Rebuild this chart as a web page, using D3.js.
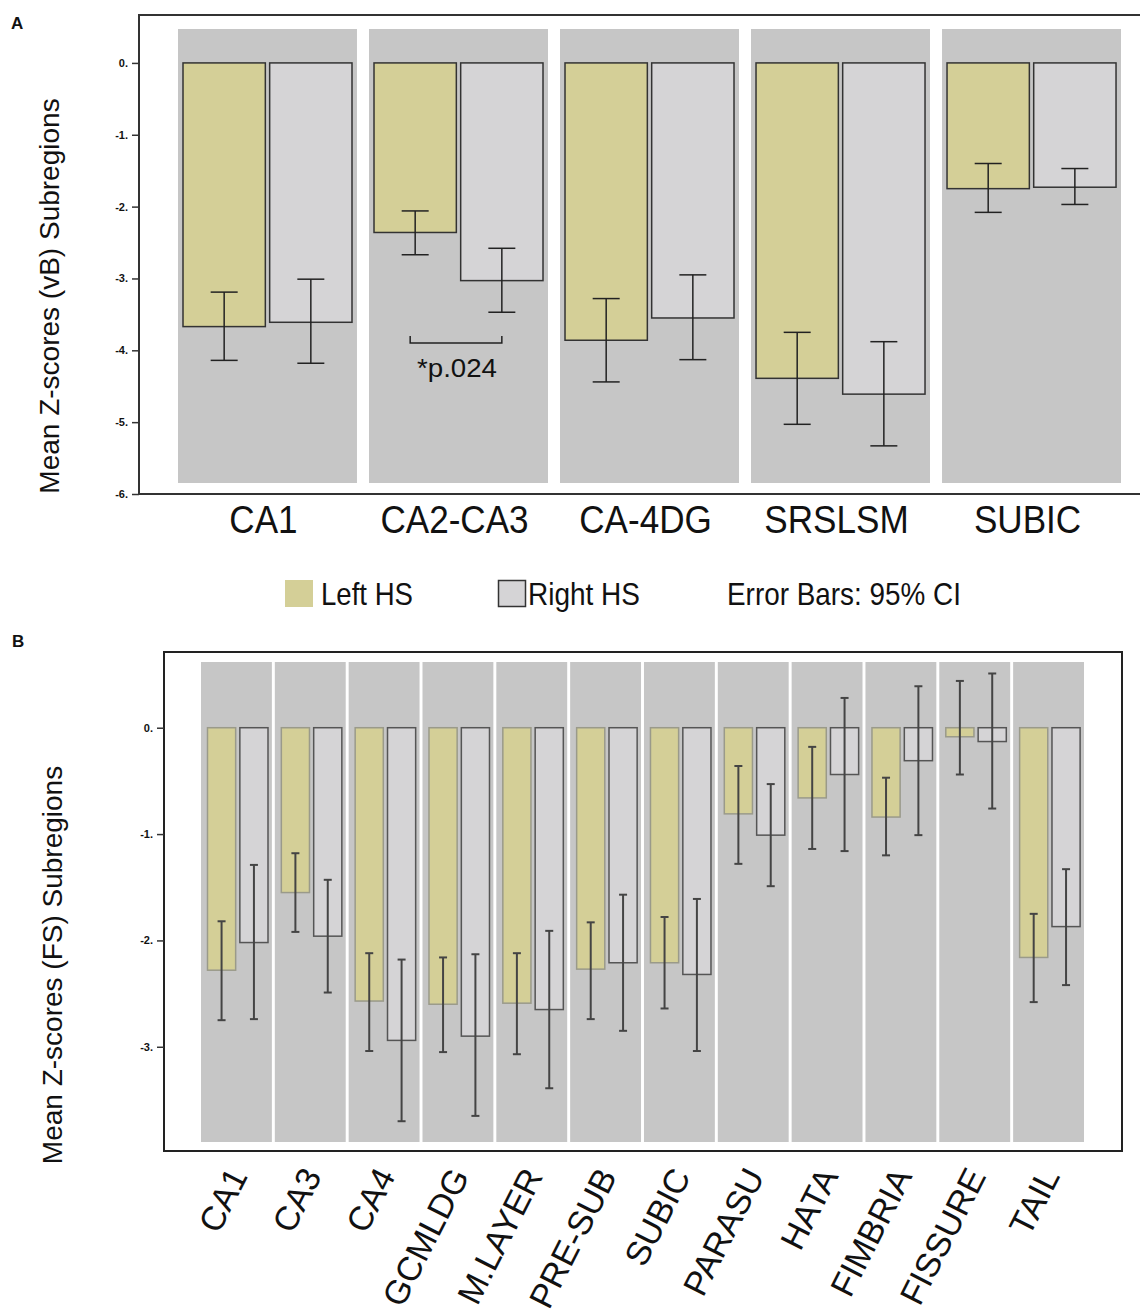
<!DOCTYPE html>
<html>
<head>
<meta charset="utf-8">
<script src="https://cdn.jsdelivr.net/npm/d3@7"></script>
<style>
  body { margin: 0; background: #fff; }
  svg { display: block; }
  text { font-family: "Liberation Sans", Arial, sans-serif; fill: #111; }
</style>
</head>
<body>
<svg id="chart" width="1140" height="1313"></svg>
<script>
// ---- panel A data (vB) ----
const groupsA = ["CA1", "CA2-CA3", "CA-4DG", "SRSLSM", "SUBIC"];
const leftA = [-3.67, -2.36, -3.86, -4.39, -1.75];
const leftA_hi = [-3.19, -2.06, -3.28, -3.75, -1.40];
const leftA_lo = [-4.14, -2.67, -4.44, -5.03, -2.08];
const rightA = [-3.61, -3.03, -3.55, -4.61, -1.73];
const rightA_hi = [-3.01, -2.58, -2.95, -3.88, -1.47];
const rightA_lo = [-4.18, -3.47, -4.13, -5.33, -1.97];
const ticksA = [0, -1, -2, -3, -4, -5, -6];
const annotA = { group: "CA2-CA3", value: -3.9, label: "*p.024" };

// ---- panel B data (FS) ----
const groupsB = ["CA1", "CA3", "CA4", "GCMLDG", "M.LAYER", "PRE-SUB", "SUBIC", "PARASU", "HATA", "FIMBRIA", "FISSURE", "TAIL"];
const leftB = [-2.28, -1.55, -2.57, -2.60, -2.59, -2.27, -2.21, -0.81, -0.66, -0.84, -0.085, -2.16];
const leftB_hi = [-1.82, -1.18, -2.12, -2.16, -2.12, -1.83, -1.78, -0.36, -0.18, -0.47, 0.44, -1.75];
const leftB_lo = [-2.75, -1.92, -3.04, -3.05, -3.07, -2.74, -2.64, -1.28, -1.14, -1.20, -0.44, -2.58];
const rightB = [-2.02, -1.96, -2.94, -2.90, -2.65, -2.21, -2.32, -1.01, -0.44, -0.31, -0.13, -1.87];
const rightB_hi = [-1.29, -1.43, -2.18, -2.13, -1.91, -1.57, -1.61, -0.53, 0.28, 0.39, 0.51, -1.33];
const rightB_lo = [-2.74, -2.49, -3.70, -3.65, -3.39, -2.85, -3.04, -1.49, -1.16, -1.01, -0.76, -2.42];
const ticksB = [0, -1, -2, -3];

const series = ["Left HS", "Right HS"];
const fills = { "Left HS": "#d4cf97", "Right HS": "#d5d4d6" };
const bgColor = "#c6c6c6";

const svg = d3.select("#chart");

function rows(groups, l, lhi, llo, r, rhi, rlo) {
  return groups.map((g, i) => ({
    group: g,
    bars: [
      { key: "Left HS", value: l[i], hi: lhi[i], lo: llo[i] },
      { key: "Right HS", value: r[i], hi: rhi[i], lo: rlo[i] }
    ]
  }));
}

function drawPanel(opt) {
  const g = svg.append("g");
  const y = d3.scaleLinear().domain(opt.yDomain).range([opt.bottom, opt.top]);
  const x = d3.scaleBand().domain(opt.groups).range(opt.xRange).paddingInner(opt.padBand);
  const xi = d3.scaleBand().domain(series).range(opt.innerRange).paddingInner(opt.padInner);

  // frame
  if (opt.fullFrame) {
    g.append("rect").attr("x", opt.left).attr("y", opt.top)
      .attr("width", opt.right - opt.left).attr("height", opt.bottom - opt.top)
      .attr("fill", "none").attr("stroke", "#222").attr("stroke-width", 2);
  } else {
    g.append("path")
      .attr("d", `M${opt.right},${opt.top}H${opt.left}V${opt.bottom}H${opt.right}`)
      .attr("fill", "none").attr("stroke", "#333").attr("stroke-width", 2);
  }

  // gray backgrounds per group
  g.selectAll("rect.bg").data(opt.groups).join("rect")
    .attr("class", "bg")
    .attr("x", d => x(d)).attr("width", x.bandwidth())
    .attr("y", opt.top + opt.bgInsetTop)
    .attr("height", (opt.bottom - opt.bgInsetBottom) - (opt.top + opt.bgInsetTop))
    .attr("fill", bgColor);

  // y axis
  const axis = d3.axisLeft(y).tickValues(opt.ticks).tickSize(7).tickPadding(4)
    .tickFormat(d => (d === 0 ? "0." : d + "."));
  const ax = g.append("g").attr("transform", `translate(${opt.left},0)`).call(axis);
  ax.select(".domain").remove();
  ax.selectAll(".tick line").attr("stroke", "#333").attr("stroke-width", 1.5);
  ax.selectAll(".tick text").attr("font-size", opt.tickFont).attr("font-weight", "bold")
    .attr("fill", "#222");

  const data = rows(opt.groups, ...opt.values);
  const grp = g.selectAll("g.grp").data(data).join("g")
    .attr("class", "grp")
    .attr("transform", d => `translate(${x(d.group)},0)`);

  grp.selectAll("rect.bar").data(d => d.bars).join("rect")
    .attr("class", "bar")
    .attr("x", d => xi(d.key)).attr("width", xi.bandwidth())
    .attr("y", y(0)).attr("height", d => y(d.value) - y(0))
    .attr("fill", d => fills[d.key])
    .attr("stroke", d => opt.stroke[d.key]).attr("stroke-width", 1.5);

  const eb = grp.selectAll("g.eb").data(d => d.bars).join("g").attr("class", "eb")
    .attr("stroke", opt.errColor).attr("stroke-width", opt.errWidth);
  const cx = d => xi(d.key) + xi.bandwidth() / 2;
  eb.append("line").attr("x1", cx).attr("x2", cx).attr("y1", d => y(d.hi)).attr("y2", d => y(d.lo));
  eb.append("line").attr("x1", d => cx(d) - opt.cap / 2).attr("x2", d => cx(d) + opt.cap / 2)
    .attr("y1", d => y(d.hi)).attr("y2", d => y(d.hi));
  eb.append("line").attr("x1", d => cx(d) - opt.cap / 2).attr("x2", d => cx(d) + opt.cap / 2)
    .attr("y1", d => y(d.lo)).attr("y2", d => y(d.lo));

  return { g, x, xi, y };
}

// ---------- Panel A ----------
const A = drawPanel({
  groups: groupsA,
  values: [leftA, leftA_hi, leftA_lo, rightA, rightA_hi, rightA_lo],
  yDomain: [-6, 0.667], top: 15, bottom: 494, left: 139, right: 1140,
  xRange: [178, 1121], padBand: 0.063, innerRange: [5, 174], padInner: 0.05,
  bgInsetTop: 14, bgInsetBottom: 11, ticks: ticksA, tickFont: 11,
  stroke: { "Left HS": "#333", "Right HS": "#333" },
  errColor: "#222", errWidth: 1.5, cap: 27, fullFrame: false
});

// condensed-looking category labels (no narrow face installed, so squeeze horizontally)
A.g.selectAll("text.xl").data(groupsA).join("text")
  .attr("class", "xl")
  .attr("transform", d => `translate(${A.x(d) + A.x.bandwidth() / 2 - 4},533) scale(0.9,1)`)
  .attr("text-anchor", "middle").attr("font-size", 39)
  .text(d => d);

// significance bracket
{
  const gx = A.x(annotA.group);
  const x1 = gx + A.xi("Left HS") + A.xi.bandwidth() / 2 - 5;
  const x2 = gx + A.xi("Right HS") + A.xi.bandwidth() / 2;
  const yb = A.y(annotA.value);
  A.g.append("path")
    .attr("d", `M${x1},${yb - 7}V${yb}H${x2}V${yb - 7}`)
    .attr("fill", "none").attr("stroke", "#222").attr("stroke-width", 1.5);
  A.g.append("text").attr("x", (x1 + x2) / 2 + 1).attr("y", yb + 34)
    .attr("text-anchor", "middle").attr("font-size", 25)
    .attr("textLength", 80).attr("lengthAdjust", "spacingAndGlyphs")
    .text(annotA.label);
}

svg.append("text").attr("x", 11).attr("y", 29).attr("font-size", 17)
  .attr("font-weight", "bold").text("A");
svg.append("text").attr("transform", "translate(59,296) rotate(-90)")
  .attr("text-anchor", "middle").attr("font-size", 28)
  .text("Mean Z-scores (vB) Subregions");

// legend
const legend = svg.append("g");
legend.append("rect").attr("x", 285).attr("y", 580).attr("width", 28).attr("height", 27)
  .attr("fill", fills["Left HS"]);
legend.append("rect").attr("x", 498.5).attr("y", 580.5).attr("width", 27).attr("height", 26)
  .attr("fill", fills["Right HS"]).attr("stroke", "#333").attr("stroke-width", 1.5);
const legendTexts = [
  { text: series[0], x: 321, len: 92 },
  { text: series[1], x: 528, len: 112 },
  { text: "Error Bars: 95% CI", x: 727, len: 234 }
];
legend.selectAll("text").data(legendTexts).join("text")
  .attr("x", d => d.x).attr("y", 605).attr("font-size", 32)
  .attr("textLength", d => d.len).attr("lengthAdjust", "spacingAndGlyphs")
  .text(d => d.text);

// ---------- Panel B ----------
const B = drawPanel({
  groups: groupsB,
  values: [leftB, leftB_hi, leftB_lo, rightB, rightB_hi, rightB_lo],
  yDomain: [-3.98, 0.712], top: 652, bottom: 1151, left: 164, right: 1122,
  xRange: [201, 1084], padBand: 0.04, innerRange: [6.5, 67], padInner: 0.13,
  bgInsetTop: 10, bgInsetBottom: 9, ticks: ticksB, tickFont: 11,
  stroke: { "Left HS": "#9a9a8a", "Right HS": "#555" },
  errColor: "#444", errWidth: 2, cap: 8, fullFrame: true
});

B.g.selectAll("text.xl").data(groupsB).join("text")
  .attr("class", "xl")
  .attr("transform", d => `translate(${B.x(d) + B.x.bandwidth() / 2 + 12},1176) rotate(-63)`)
  .attr("text-anchor", "end").attr("font-size", 34)
  .text(d => d);

svg.append("text").attr("x", 12).attr("y", 647).attr("font-size", 17)
  .attr("font-weight", "bold").text("B");
svg.append("text").attr("transform", "translate(62,965) rotate(-90)")
  .attr("text-anchor", "middle").attr("font-size", 28)
  .text("Mean Z-scores (FS) Subregions");
</script>
</body>
</html>
